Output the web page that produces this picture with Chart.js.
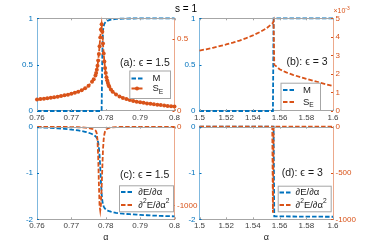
<!DOCTYPE html>
<html>
<head>
<meta charset="utf-8">
<script src="https://cdn.jsdelivr.net/npm/chart.js@4"></script>
<style>
body { margin: 0; width: 370px; height: 248px; background: #fff; position: relative; overflow: hidden; }
canvas { position: absolute; left: 0; top: 0; }
</style>
</head>
<body>
<canvas id="pa" width="370" height="248"></canvas>
<canvas id="pb" width="370" height="248"></canvas>
<canvas id="pc" width="370" height="248"></canvas>
<canvas id="pd" width="370" height="248"></canvas>
<script>
const BLUE = "#0072BD";
const ORANGE = "#D95319";
const FONT = '"Liberation Sans", Arial, sans-serif';

// eps = 1.5 -> panels (a) and (c)
const alphaA = [0.760, 0.761, 0.762, 0.763, 0.764, 0.765, 0.766, 0.767, 0.768, 0.769, 0.770, 0.771, 0.772, 0.773, 0.774, 0.775, 0.776,
  0.7765, 0.777,
  0.7772, 0.7774, 0.7776, 0.7778, 0.7780, 0.7782, 0.7784, 0.7786, 0.7788, 0.7790, 0.7792, 0.7794, 0.7796, 0.7798, 0.7800, 0.7802, 0.7804, 0.7806, 0.7808, 0.7810,
  0.7815,
  0.782, 0.783, 0.784, 0.785, 0.786, 0.787, 0.788, 0.789, 0.790, 0.791, 0.792, 0.793, 0.794, 0.795, 0.796, 0.797, 0.798, 0.799, 0.800];
const magA = [0, 0, 0, 0, 0, 0, 0, 0, 0, 0, 0, 0, 0, 0, 0, 0, 0,
  0, 0,
  0, 0, 0, 0, 0, 0, 0, 0, 0, 0.6, 0.87, 0.915, 0.94, 0.952, 0.96, 0.966, 0.971, 0.975, 0.978, 0.981,
  0.986,
  0.989, 0.993, 0.995, 0.996, 0.997, 0.998, 0.998, 0.999, 0.999, 1, 1, 1, 1, 1, 1, 1, 1, 1, 1];
const entropyA = [0.080, 0.083, 0.086, 0.089, 0.092, 0.096, 0.100, 0.104, 0.109, 0.114, 0.120, 0.127, 0.135, 0.145, 0.158, 0.176, 0.203,
  0.222, 0.248,
  0.265, 0.287, 0.315, 0.352, 0.398, 0.452, 0.512, 0.568, 0.604, 0.552, 0.470, 0.400, 0.345, 0.300, 0.264, 0.236, 0.214, 0.196, 0.182, 0.170,
  0.150,
  0.135, 0.115, 0.101, 0.091, 0.083, 0.076, 0.070, 0.065, 0.061, 0.057, 0.053, 0.050, 0.047, 0.044, 0.041, 0.038, 0.035, 0.033, 0.031];
const dEA = [-0.014, -0.016, -0.019, -0.022, -0.026, -0.030, -0.035, -0.040, -0.046, -0.053, -0.061, -0.070, -0.081, -0.094, -0.110, -0.130, -0.158,
  -0.178, -0.205,
  -0.222, -0.245, -0.28, -0.34, -0.45, -0.62, -0.88, -1.18, -1.45, -1.60, -1.68, -1.72, -1.75, -1.77, -1.785, -1.795, -1.805, -1.812, -1.818, -1.824,
  -1.835,
  -1.845, -1.86, -1.87, -1.878, -1.885, -1.89, -1.895, -1.90, -1.905, -1.909, -1.913, -1.917, -1.92, -1.923, -1.926, -1.929, -1.932, -1.934, -1.936];
const d2EA = [-1, -1, -1, -2, -2, -2, -3, -3, -4, -4, -5, -6, -7, -9, -12, -17, -26,
  -34, -48,
  -60, -90, -170, -380, -720, -1000, -1065, -990, -780, -520, -290, -160, -95, -60, -42, -32, -26, -21, -18, -15,
  -11,
  -8, -5, -4, -3, -3, -2, -2, -2, -1, -1, -1, -1, -1, -1, -1, -1, -1, -1, -1];

// eps = 3 -> panel (b)
const alphaB = [1.500, 1.505, 1.510, 1.515, 1.520, 1.525, 1.530, 1.535, 1.540, 1.545, 1.550, 1.555,
  1.5555, 1.556, 1.560, 1.565, 1.570, 1.575, 1.580, 1.585, 1.590, 1.595, 1.600];
const magB = [0, 0, 0, 0, 0, 0, 0, 0, 0, 0, 0, 0,
  1, 1, 1, 1, 1, 1, 1, 1, 1, 1, 1];
const entropyB = [3.26, 3.33, 3.41, 3.50, 3.59, 3.69, 3.80, 3.93, 4.08, 4.25, 4.45, 4.75,
  4.85, 2.50, 2.25, 2.08, 1.95, 1.84, 1.73, 1.63, 1.53, 1.44, 1.35]; // x 1e-3

// eps = 3 -> panel (d)
const alphaD = [1.50, 1.51, 1.52, 1.53, 1.54, 1.55, 1.5545, 1.5550, 1.5555, 1.5560, 1.5565, 1.56, 1.57, 1.58, 1.59, 1.60];
const dED = [0, 0, 0, 0, 0, 0, 0, 0, 0, -1.935, -1.936, -1.937, -1.94, -1.942, -1.944, -1.945];
const d2ED = [0, 0, 0, 0, 0, 0, 0, -930, 0, 0, 0, 0, 0, 0, 0, 0];

// tick labels
const xTicksA = [0.76, 0.77, 0.78, 0.79, 0.8];
const xTicksB = [1.5, 1.52, 1.54, 1.56, 1.58, 1.6];
const yTicksTop = [0, 0.5, 1];
const yTicksBottom = [-2, -1, 0];
const rTicksA = [0, 0.5];
const rTicksB = [0, 1, 2, 3, 4, 5];
const rTicksC = [-1000, 0];
const rTicksD = [-1000, -500, 0];

function pts(xs, ys) {
  return xs.map((x, i) => ({ x: x, y: ys[i] }));
}

function fmt(v) {
  return String(+Number(v).toFixed(3));
}

function richWidth(ctx, parts, size) {
  let w = 0;
  parts.forEach(([s, k]) => {
    ctx.font = (k ? size * 0.7 : size) + "px " + FONT;
    w += ctx.measureText(s).width;
  });
  return w;
}

function drawRich(ctx, parts, x, y, size, color, align) {
  if (align === "center") x -= richWidth(ctx, parts, size) / 2;
  ctx.fillStyle = color;
  ctx.textBaseline = "middle";
  ctx.textAlign = "left";
  parts.forEach(([s, k]) => {
    const fs = k ? size * 0.7 : size;
    ctx.font = fs + "px " + FONT;
    const dy = k === "sub" ? size * 0.35 : k === "sup" ? -size * 0.4 : 0;
    ctx.fillText(s, x, y + dy);
    x += ctx.measureText(s).width;
  });
}

const deco = {
  id: "deco",
  afterDraw(chart, args, opts) {
    const ctx = chart.ctx, a = chart.chartArea;
    ctx.save();
    ctx.lineWidth = 1;
    // top spine
    ctx.strokeStyle = "#a6a6a6";
    ctx.beginPath();
    ctx.moveTo(a.left, Math.round(a.top) + 0.5);
    ctx.lineTo(a.right, Math.round(a.top) + 0.5);
    ctx.stroke();
    // inward tick marks
    const sx = chart.scales.x;
    sx.ticks.forEach(t => {
      const p = Math.round(sx.getPixelForValue(t.value)) + 0.5;
      ctx.beginPath();
      ctx.moveTo(p, a.bottom); ctx.lineTo(p, a.bottom - 2);
      ctx.moveTo(p, a.top); ctx.lineTo(p, a.top + 2);
      ctx.stroke();
    });
    [["y", BLUE, 1], ["y1", ORANGE, -1]].forEach(([id, col, dir]) => {
      const s = chart.scales[id];
      const x0 = dir > 0 ? a.left : a.right;
      ctx.strokeStyle = col;
      s.ticks.forEach(t => {
        const p = Math.round(s.getPixelForValue(t.value)) + 0.5;
        ctx.beginPath();
        ctx.moveTo(x0, p); ctx.lineTo(x0 + 2 * dir, p);
        ctx.stroke();
      });
    });
    // panel label
    ctx.font = "10.5px " + FONT;
    ctx.fillStyle = "#1a1a1a";
    ctx.textBaseline = "middle";
    ctx.textAlign = "left";
    ctx.fillText(opts.label[0], opts.label[1], opts.label[2]);
    // legend box
    const L = opts.legend;
    ctx.fillStyle = "#fff";
    ctx.fillRect(L.x, L.y, L.w, L.h);
    ctx.strokeStyle = "#a6a6a6";
    ctx.strokeRect(L.x + 0.5, L.y + 0.5, L.w - 1, L.h - 1);
    L.items.forEach(it => {
      ctx.strokeStyle = it.color;
      ctx.lineWidth = 1.8;
      ctx.setLineDash([4.5, 2]);
      ctx.beginPath();
      ctx.moveTo(L.lineX[0], it.y);
      ctx.lineTo(L.lineX[1], it.y);
      ctx.stroke();
      ctx.setLineDash([]);
      if (it.marker) {
        ctx.fillStyle = it.color;
        ctx.beginPath();
        ctx.arc((L.lineX[0] + L.lineX[1]) / 2, it.y, 2, 0, 2 * Math.PI);
        ctx.fill();
      }
      drawRich(ctx, it.parts, L.textX, it.y, 9.5, "#1a1a1a");
    });
    (opts.texts || []).forEach(t => drawRich(ctx, t.parts, t.x, t.y, t.size, t.color, t.align));
    ctx.restore();
  }
};

function panel(id, area, xTicks, left, right, datasets, decoOpts) {
  const LW = 30, RW = 24, XH = 14;
  return new Chart(document.getElementById(id), {
    type: "line",
    data: { datasets: datasets },
    plugins: [deco],
    options: {
      responsive: false,
      animation: false,
      devicePixelRatio: 1,
      layout: {
        autoPadding: false,
        padding: { left: area.l - LW, right: 370 - area.r - RW, top: area.t, bottom: 248 - area.b - XH }
      },
      plugins: { legend: { display: false }, tooltip: { enabled: false }, deco: decoOpts },
      scales: {
        x: {
          type: "linear",
          min: xTicks[0],
          max: xTicks[xTicks.length - 1],
          afterBuildTicks: s => { s.ticks = xTicks.map(v => ({ value: v })); },
          afterFit: s => { s.height = XH; },
          grid: { drawOnChartArea: false, drawTicks: false },
          border: { color: "#a6a6a6", width: 1 },
          ticks: { callback: fmt, padding: 2, color: "#404040", font: { family: FONT, size: 8 }, maxRotation: 0 }
        },
        y: {
          position: "left",
          min: left.min,
          max: left.max,
          afterBuildTicks: s => { s.ticks = left.ticks.map(v => ({ value: v })); },
          afterFit: s => { s.width = LW; },
          grid: { drawOnChartArea: false, drawTicks: false },
          border: { color: "rgba(0,114,189,0.5)", width: 1 },
          ticks: { callback: fmt, padding: 4, color: BLUE, font: { family: FONT, size: 8 } }
        },
        y1: {
          position: "right",
          min: right.min,
          max: right.max,
          afterBuildTicks: s => { s.ticks = right.ticks.map(v => ({ value: v })); },
          afterFit: s => { s.width = RW; },
          grid: { drawOnChartArea: false, drawTicks: false },
          border: { color: "rgba(217,83,25,0.5)", width: 1 },
          ticks: { callback: fmt, padding: 2.5, color: ORANGE, font: { family: FONT, size: 8 } }
        }
      }
    }
  });
}

function line(xs, ys, color, axis, marker) {
  return {
    data: pts(xs, ys),
    yAxisID: axis,
    borderColor: color,
    borderWidth: 1.8,
    borderDash: [4.5, 2],
    pointRadius: marker ? 2 : 0,
    pointBackgroundColor: color,
    pointBorderWidth: 0,
    fill: false,
    tension: 0,
    clip: 3
  };
}

const areaTL = { l: 37, r: 174.5, t: 18.3, b: 111 };
const areaTR = { l: 199.5, r: 333, t: 18.3, b: 111 };
const areaBL = { l: 37, r: 174.5, t: 126.7, b: 219.3 };
const areaBR = { l: 199.5, r: 333, t: 126.7, b: 219.3 };

panel("pa", areaTL, xTicksA,
  { min: 0, max: 1, ticks: yTicksTop },
  { min: 0, max: 0.646, ticks: rTicksA },
  [line(alphaA, entropyA, ORANGE, "y1", true), line(alphaA, magA, BLUE, "y", false)],
  {
    label: ["(a): ϵ = 1.5", 120, 63],
    legend: {
      x: 129.3, y: 70.5, w: 41.7, h: 28.5, lineX: [131.5, 142.5], textX: 152.5,
      items: [
        { color: BLUE, y: 78.5, parts: [["M"]] },
        { color: ORANGE, y: 88.5, marker: true, parts: [["S"], ["E", "sub"]] }
      ]
    },
    texts: [{ parts: [["s = 1"]], x: 186, y: 9.5, size: 10, color: "#000", align: "center" }]
  });

panel("pb", areaTR, xTicksB,
  { min: 0, max: 1, ticks: yTicksTop },
  { min: 0, max: 5, ticks: rTicksB },
  [line(alphaB, entropyB, ORANGE, "y1", false), line(alphaB, magB, BLUE, "y", false)],
  {
    label: ["(b): ϵ = 3", 286.5, 62],
    legend: {
      x: 280.5, y: 82.7, w: 40.5, h: 28.3, lineX: [283, 296], textX: 303,
      items: [
        { color: BLUE, y: 90, parts: [["M"]] },
        { color: ORANGE, y: 102, parts: [["S"], ["E", "sub"]] }
      ]
    },
    texts: [{ parts: [["×10"], ["-3", "sup"]], x: 333.5, y: 11.5, size: 7, color: ORANGE }]
  });

panel("pc", areaBL, xTicksA,
  { min: -2, max: 0, ticks: yTicksBottom },
  { min: -1177, max: 0, ticks: rTicksC },
  [line(alphaA, d2EA, ORANGE, "y1", false), line(alphaA, dEA, BLUE, "y", false)],
  {
    label: ["(c): ϵ = 1.5", 120, 175],
    legend: {
      x: 119, y: 185.3, w: 55, h: 27, lineX: [121, 133.5], textX: 138.3,
      items: [
        { color: BLUE, y: 192, parts: [["∂E/∂α"]] },
        { color: ORANGE, y: 205, parts: [["∂"], ["2", "sup"], ["E/∂α"], ["2", "sup"]] }
      ]
    },
    texts: [{ parts: [["α"]], x: 105.75, y: 238, size: 9, color: "#262626", align: "center" }]
  });

panel("pd", areaBR, xTicksB,
  { min: -2, max: 0, ticks: yTicksBottom },
  { min: -1000, max: 0, ticks: rTicksD },
  [line(alphaD, d2ED, ORANGE, "y1", false), line(alphaD, dED, BLUE, "y", false)],
  {
    label: ["(d): ϵ = 3", 281.7, 173.5],
    legend: {
      x: 277.7, y: 185.7, w: 54, h: 26.6, lineX: [279.5, 292], textX: 295.5,
      items: [
        { color: BLUE, y: 192.5, parts: [["∂E/∂α"]] },
        { color: ORANGE, y: 205, parts: [["∂"], ["2", "sup"], ["E/∂α"], ["2", "sup"]] }
      ]
    },
    texts: [{ parts: [["α"]], x: 266.25, y: 238, size: 9, color: "#262626", align: "center" }]
  });
</script>
</body>
</html>
